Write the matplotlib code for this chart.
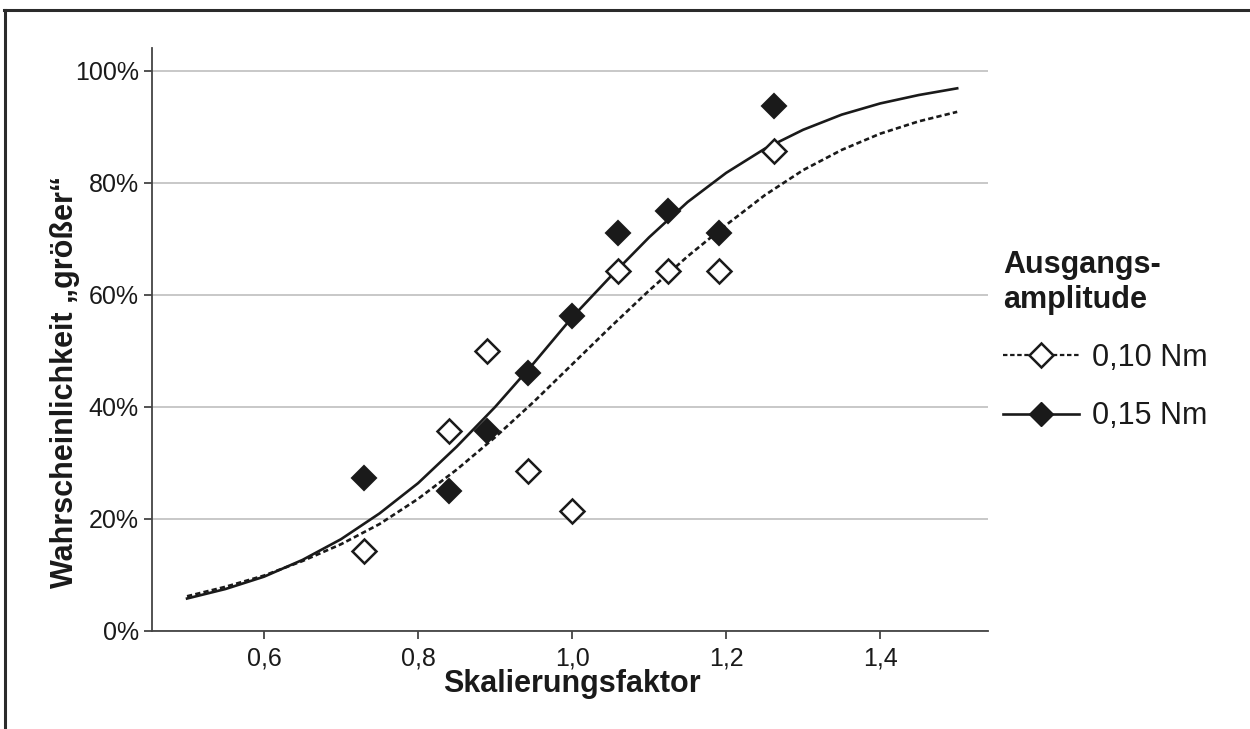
import matplotlib
matplotlib.use('Agg')
import matplotlib.pyplot as plt
from matplotlib.lines import Line2D
from matplotlib.ticker import FuncFormatter

plt.rcParams['font.family'] = ['Liberation Sans', 'DejaVu Sans']

# measured points (Skalierungsfaktor, probability in %)
scale = [0.73, 0.84, 0.89, 0.943, 1.0, 1.06, 1.124, 1.191, 1.262]
p_010 = [14.3, 35.7, 50.0, 28.6, 21.4, 64.3, 64.3, 64.3, 85.7]
p_015 = [27.3, 25.0, 35.7, 46.1, 56.3, 71.1, 75.0, 71.1, 93.8]

# fitted curves
fit_x = [0.50, 0.55, 0.60, 0.65, 0.70, 0.75, 0.80, 0.85, 0.90, 0.95, 1.00,
         1.05, 1.10, 1.15, 1.20, 1.25, 1.30, 1.35, 1.40, 1.45, 1.50]
fit_010 = [6.2, 7.9, 9.9, 12.5, 15.5, 19.1, 23.6, 28.8, 34.6, 40.9, 47.6,
           54.3, 60.8, 66.9, 72.5, 77.8, 82.3, 85.9, 88.8, 91.0, 92.7]
fit_015 = [5.8, 7.5, 9.7, 12.7, 16.4, 21.0, 26.4, 32.9, 40.0, 47.8, 56.0,
           63.3, 70.3, 76.6, 81.8, 86.1, 89.5, 92.2, 94.2, 95.7, 96.9]

labels = ['0,10 Nm', '0,15 Nm']

fig = plt.figure(figsize=(12.5, 7.29), dpi=100)
ax = fig.add_axes([152/1250, 1-631/729, (988-152)/1250, (631-48)/729])

ax.set_xlim(0.4545, 1.540)
ax.set_ylim(0, 104.1)
ax.set_yticks([0, 20, 40, 60, 80, 100])
ax.set_xticks([0.6, 0.8, 1.0, 1.2, 1.4])
ax.yaxis.set_major_formatter(FuncFormatter(lambda v, p: '%d%%' % v))
ax.xaxis.set_major_formatter(FuncFormatter(lambda v, p: ('%.1f' % v).replace('.', ',')))
ax.grid(axis='y', color='#c8c8c8', lw=1.4)
ax.set_axisbelow(True)

for s in ['top', 'right']:
    ax.spines[s].set_visible(False)
for s in ['left', 'bottom']:
    ax.spines[s].set_color('#444444')
    ax.spines[s].set_linewidth(1.3)
ax.tick_params(direction='out', length=6, width=1.3, color='#444444',
               labelsize=18, labelcolor='#1a1a1a')
ax.tick_params(axis='y', pad=3.5)
ax.tick_params(axis='x', pad=5)

ax.plot(fit_x, fit_010, color='#1a1a1a', lw=1.9, dashes=(2.0, 1.2), zorder=3)
ax.plot(fit_x, fit_015, color='#1a1a1a', lw=1.9, zorder=3)
ax.plot(scale, p_015, ls='none', marker='D', ms=12.5, mfc='#1a1a1a',
        mec='#1a1a1a', mew=1.5, zorder=4)
ax.plot(scale, p_010, ls='none', marker='D', ms=12.5, mfc='white',
        mec='#1a1a1a', mew=1.8, zorder=5)

handles = [
    Line2D([], [], color='#1a1a1a', lw=1.6, dashes=(2.0, 1.2), marker='D',
           ms=12.5, mfc='white', mec='#1a1a1a', mew=1.8),
    Line2D([], [], color='#1a1a1a', lw=1.9, marker='D', ms=12.5,
           mfc='#1a1a1a', mec='#1a1a1a'),
]
leg = ax.legend(handles, labels, title='Ausgangs-\namplitude',
                title_fontproperties={'weight': 'bold', 'size': 22},
                fontsize=22, frameon=False, loc='upper left',
                bbox_to_anchor=(1003/1250, 1-250/729),
                bbox_transform=fig.transFigure, borderpad=0,
                borderaxespad=0, handlelength=2.5, handletextpad=0.42,
                labelspacing=0.93, alignment='left')
for t in leg.get_texts():
    t.set_color('#1a1a1a')
leg.get_title().set_color('#1a1a1a')

fig.text(572/1250, 1-684/729, 'Skalierungsfaktor', ha='center', va='center',
         fontsize=22, fontweight='bold', color='#1a1a1a')
fig.text(65/1250, 1-382/729, 'Wahrscheinlichkeit \u201egr\u00f6\u00dfer\u201c',
         ha='center', va='center', rotation=90, fontsize=22,
         fontweight='bold', color='#1a1a1a')

# outer frame (top and left edges only)
fig.add_artist(Line2D([4/1250, 1], [1-10/729, 1-10/729],
                      transform=fig.transFigure, color='#2b2b2b', lw=2.2))
fig.add_artist(Line2D([5/1250, 5/1250], [0, 1-10/729],
                      transform=fig.transFigure, color='#2b2b2b', lw=2.2))

fig.savefig('out.png', dpi=100)
